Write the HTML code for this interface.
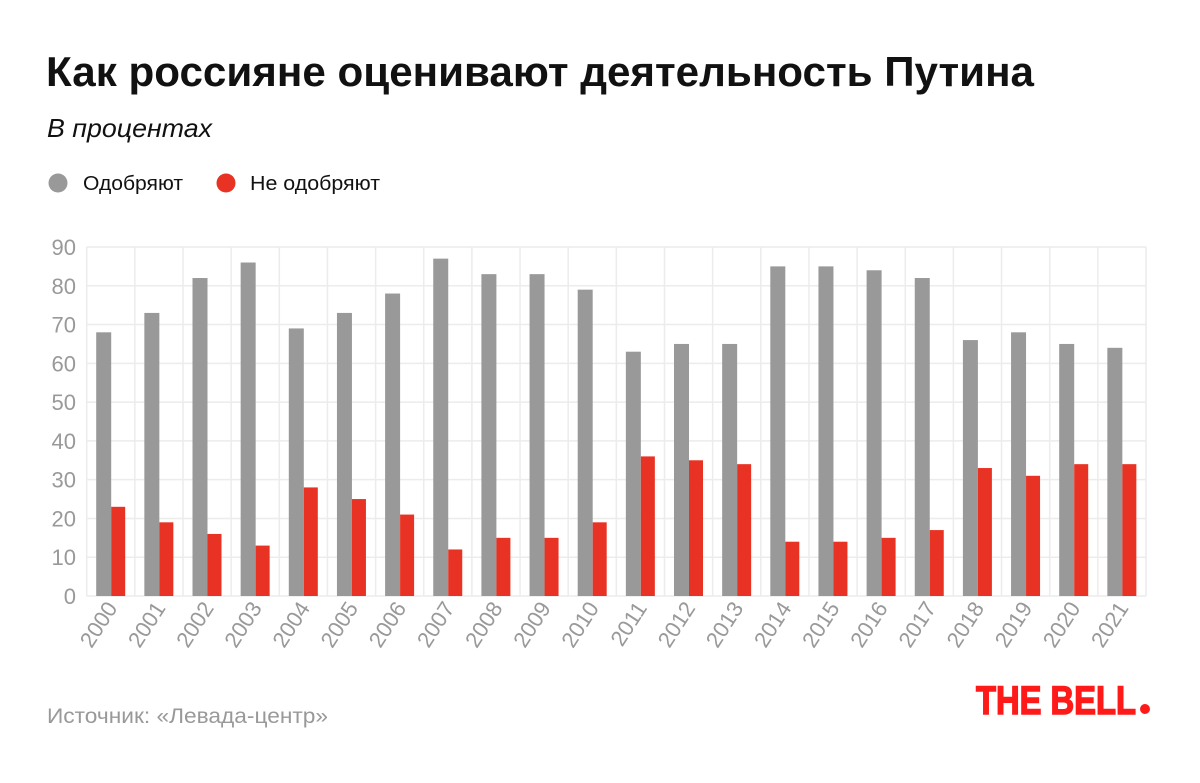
<!DOCTYPE html>
<html><head><meta charset="utf-8"><style>
body{margin:0;width:1200px;height:778px;background:#fff;overflow:hidden;font-family:"Liberation Sans",sans-serif}
</style></head><body>
<svg width="1200" height="778" xmlns="http://www.w3.org/2000/svg" font-family="Liberation Sans, sans-serif">
<text x="46" y="86" font-size="42" font-weight="bold" fill="#111" textLength="988" lengthAdjust="spacingAndGlyphs">Как россияне оценивают деятельность Путина</text>
<text x="47" y="137" font-size="26" font-style="italic" fill="#111" textLength="165" lengthAdjust="spacingAndGlyphs">В процентах</text>
<circle cx="58" cy="183" r="9.5" fill="#999"/>
<text x="83" y="190" font-size="20" fill="#111" textLength="100" lengthAdjust="spacingAndGlyphs">Одобряют</text>
<circle cx="226" cy="183" r="9.5" fill="#e83324"/>
<text x="250" y="190" font-size="20" fill="#111" textLength="130" lengthAdjust="spacingAndGlyphs">Не одобряют</text>
<g id="grid" stroke="#ececec" stroke-width="1.5"></g>
<g id="bars"></g>
<g id="labels" font-size="22" fill="#999"></g>
<text x="47" y="723" font-size="21" fill="#999" textLength="281" lengthAdjust="spacingAndGlyphs">Источник: «Левада-центр»</text>
<text x="976" y="714" font-size="40" font-weight="bold" fill="#ff1a1a" stroke="#ff1a1a" stroke-width="1.5" textLength="160" lengthAdjust="spacingAndGlyphs">THE BELL</text>
<circle cx="1145" cy="709" r="5" fill="#ff1a1a"/>
</svg>
<script>
var ns="http://www.w3.org/2000/svg";
var g=[68,73,82,86,69,73,78,87,83,83,79,63,65,65,85,85,84,82,66,68,65,64];
var r=[23,19,16,13,28,25,21,12,15,15,19,36,35,34,14,14,15,17,33,31,34,34];
var L=86.7,R=1146,T=247,B=596,W=(R-L)/22,k=(B-T)/90;
function el(p,n,a,t){var e=document.createElementNS(ns,n);for(var x in a)e.setAttribute(x,a[x]);if(t)e.textContent=t;document.getElementById(p).appendChild(e);}
for(var i=0;i<=9;i++){var y=B-i*10*k;el("grid","line",{x1:L,x2:R,y1:y,y2:y});el("labels","text",{x:76,y:y+8,"text-anchor":"end"},String(i*10));}
for(var i=0;i<=22;i++){var x=L+i*W;el("grid","line",{x1:x,x2:x,y1:T,y2:B});}
for(var i=0;i<22;i++){var x=L+i*W+9.5;
el("bars","rect",{x:x,y:B-g[i]*k,width:15,height:g[i]*k,fill:"#999"});
el("bars","rect",{x:x+15,y:B-r[i]*k,width:14,height:r[i]*k,fill:"#e83324"});
var cx=x+22,cy=608;
el("labels","text",{x:cx,y:cy,"text-anchor":"end",transform:"rotate(-57 "+cx+" "+cy+")"},String(2000+i));}
</script>
</body></html>
